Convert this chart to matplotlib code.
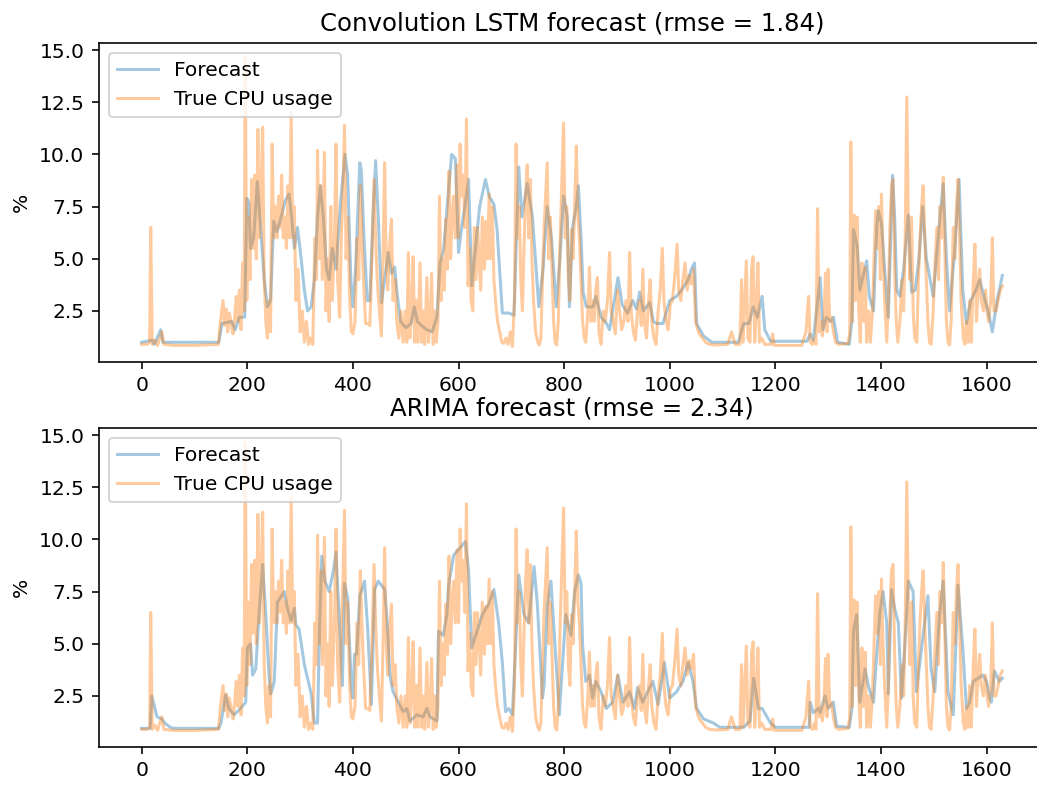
import matplotlib
matplotlib.use("Agg")
import matplotlib.pyplot as plt

# (time step, value) pairs
true_pts = [
    (0, 0.9), (10, 0.9), (15, 1.0), (17, 6.5), (20, 0.9), (25, 1.1), (30, 0.85), (38, 1.5), (42, 0.9),
    (60, 0.85), (100, 0.85), (145, 0.9), (150, 2.2), (154, 3.0), (157, 1.8), (160, 2.6), (163, 1.5),
    (166, 2.4), (170, 1.8), (173, 1.4), (176, 2.2), (179, 3.2), (182, 2.0), (185, 3.5), (188, 1.6),
    (191, 4.8), (194, 2.5), (196, 14.65), (199, 3.0), (202, 7.0), (205, 4.0), (208, 8.8), (211, 5.5),
    (214, 9.0), (217, 5.0), (220, 11.2), (223, 6.0), (226, 8.0), (229, 11.3), (232, 4.0), (235, 2.0),
    (238, 1.2), (241, 3.0), (244, 1.5), (247, 10.5), (250, 6.0), (253, 7.5), (256, 6.0), (259, 8.0),
    (262, 6.5), (265, 9.0), (268, 6.0), (271, 7.0), (274, 5.5), (277, 8.5), (280, 6.0), (283, 12.0),
    (286, 6.0), (289, 7.5), (292, 3.0), (296, 4.5), (300, 1.5), (304, 2.5), (308, 1.0), (312, 2.0),
    (316, 0.9), (320, 1.2), (324, 0.9), (328, 6.0), (331, 4.0), (333, 10.2), (336, 5.0), (339, 8.5),
    (342, 4.0), (346, 10.1), (349, 2.5), (352, 5.0), (355, 2.0), (358, 7.5), (361, 3.0), (365, 6.0),
    (368, 10.5), (371, 4.0), (375, 2.2), (378, 6.0), (381, 8.0), (384, 11.4), (387, 5.0), (390, 7.0),
    (394, 3.0), (397, 1.5), (400, 1.4), (404, 2.0), (408, 6.0), (411, 4.0), (414, 8.5), (417, 6.0),
    (420, 4.0), (424, 1.9), (428, 1.9), (432, 1.8), (436, 5.0), (440, 8.8), (443, 6.0), (446, 4.0),
    (450, 2.5), (454, 1.3), (457, 5.0), (460, 9.6), (463, 5.0), (466, 3.5), (469, 5.5), (473, 6.9),
    (476, 3.0), (480, 4.0), (483, 2.0), (487, 1.2), (491, 2.5), (495, 1.0), (499, 2.5), (502, 1.0),
    (505, 5.3), (508, 1.2), (511, 2.5), (514, 5.1), (517, 1.0), (520, 3.0), (523, 1.0), (527, 4.8),
    (530, 1.0), (533, 2.5), (536, 0.9), (540, 4.1), (543, 1.0), (546, 2.0), (549, 4.3), (552, 0.9),
    (555, 2.5), (558, 1.0), (561, 2.0), (564, 8.0), (567, 3.0), (570, 5.0), (573, 3.5), (576, 6.9),
    (579, 4.5), (582, 9.2), (585, 5.0), (588, 7.0), (591, 8.0), (594, 6.0), (597, 9.5), (600, 6.0),
    (603, 10.5), (606, 8.0), (609, 9.0), (612, 6.5), (615, 11.7), (618, 3.7), (621, 5.5), (624, 3.0),
    (627, 2.5), (630, 6.5), (633, 4.0), (636, 6.5), (639, 5.0), (642, 3.5), (645, 7.0), (649, 4.5),
    (652, 6.8), (655, 5.0), (658, 8.1), (661, 5.0), (664, 7.5), (667, 4.0), (670, 3.0), (674, 2.0),
    (678, 1.5), (682, 1.0), (686, 0.95), (690, 1.2), (694, 0.9), (698, 1.5), (702, 0.8), (706, 3.0),
    (709, 10.5), (712, 6.0), (715, 7.5), (718, 4.0), (721, 2.5), (724, 5.5), (727, 8.0), (730, 9.5),
    (733, 6.0), (736, 8.8), (739, 5.0), (742, 3.0), (746, 1.5), (750, 1.0), (753, 0.87), (756, 1.2),
    (759, 4.0), (762, 6.5), (765, 8.0), (768, 9.6), (771, 5.0), (774, 7.0), (777, 4.5), (780, 2.0),
    (783, 1.0), (786, 0.87), (789, 2.0), (792, 5.5), (795, 8.0), (799, 11.5), (802, 6.0), (805, 7.5),
    (808, 4.0), (811, 3.0), (814, 6.4), (817, 5.0), (820, 7.5), (823, 10.4), (826, 7.0), (829, 6.0),
    (832, 4.0), (835, 2.0), (838, 1.2), (841, 1.0), (845, 2.5), (848, 4.6), (851, 2.0), (854, 3.0),
    (857, 2.0), (860, 3.5), (863, 4.1), (866, 1.5), (870, 0.9), (874, 2.5), (878, 2.0), (882, 3.0),
    (886, 5.3), (889, 2.5), (893, 2.0), (897, 1.4), (901, 3.5), (905, 2.5), (909, 1.6), (913, 2.0),
    (917, 3.0), (921, 2.0), (924, 5.3), (927, 2.5), (931, 1.5), (935, 1.1), (939, 2.5), (943, 3.0),
    (946, 1.8), (949, 4.5), (952, 2.0), (956, 1.2), (960, 3.0), (963, 4.0), (966, 2.0), (970, 1.2),
    (974, 0.9), (978, 2.5), (982, 3.5), (986, 5.5), (989, 3.0), (993, 2.0), (997, 1.6), (1001, 2.8),
    (1005, 3.0), (1009, 4.0), (1014, 5.7), (1017, 3.5), (1021, 3.0), (1025, 4.0), (1029, 4.8),
    (1033, 3.5), (1037, 4.2), (1041, 3.8), (1045, 4.5), (1049, 2.0), (1052, 1.7), (1056, 1.4),
    (1062, 1.2), (1068, 1.0), (1075, 0.9), (1090, 0.87), (1110, 0.9), (1117, 1.5), (1124, 0.9),
    (1133, 0.9), (1136, 4.0), (1139, 1.0), (1142, 3.0), (1145, 4.9), (1148, 1.2), (1152, 1.0),
    (1155, 4.5), (1158, 5.1), (1161, 1.0), (1164, 2.5), (1167, 4.8), (1170, 1.0), (1174, 1.2),
    (1180, 0.9), (1192, 0.9), (1195, 1.4), (1198, 0.85), (1250, 0.85), (1258, 1.5), (1263, 3.2),
    (1266, 1.0), (1270, 0.9), (1274, 1.2), (1277, 0.9), (1280, 7.4), (1283, 1.5), (1286, 2.0),
    (1289, 1.3), (1292, 2.0), (1295, 4.3), (1298, 1.5), (1300, 4.5), (1303, 2.0), (1306, 2.2),
    (1310, 1.5), (1314, 1.0), (1320, 0.9), (1338, 0.95), (1341, 1.5), (1343, 10.6), (1346, 2.0),
    (1349, 7.1), (1352, 3.0), (1355, 7.0), (1358, 2.5), (1361, 1.0), (1364, 4.8), (1367, 2.0),
    (1370, 4.6), (1373, 1.0), (1377, 2.5), (1380, 1.0), (1384, 2.5), (1387, 5.0), (1390, 7.3),
    (1393, 5.5), (1396, 7.5), (1399, 4.0), (1401, 8.1), (1404, 5.0), (1407, 3.0), (1411, 1.0),
    (1414, 3.0), (1417, 6.5), (1420, 8.5), (1423, 8.8), (1426, 4.5), (1429, 2.0), (1432, 1.0),
    (1436, 2.0), (1440, 4.0), (1443, 2.5), (1446, 6.0), (1449, 12.75), (1452, 6.5), (1455, 4.0),
    (1458, 7.0), (1461, 2.5), (1464, 1.2), (1468, 1.0), (1471, 4.0), (1474, 6.0), (1477, 7.5),
    (1480, 8.5), (1483, 6.0), (1486, 4.0), (1489, 2.0), (1492, 1.0), (1495, 0.9), (1499, 2.5),
    (1502, 4.5), (1506, 6.5), (1509, 4.0), (1512, 7.5), (1515, 6.0), (1518, 8.9), (1521, 5.5),
    (1524, 2.0), (1527, 1.0), (1530, 0.87), (1533, 2.0), (1537, 6.5), (1540, 5.0), (1543, 7.5),
    (1546, 8.8), (1549, 6.0), (1552, 3.0), (1556, 1.2), (1559, 0.9), (1562, 2.0), (1565, 1.0),
    (1568, 3.0), (1571, 1.0), (1575, 4.0), (1578, 5.7), (1581, 2.0), (1584, 3.5), (1587, 4.5),
    (1590, 3.0), (1594, 2.5), (1598, 3.5), (1601, 2.5), (1604, 2.0), (1608, 3.0), (1611, 6.0),
    (1614, 2.5), (1618, 2.5), (1622, 3.0), (1626, 3.5), (1630, 3.7),
]

lstm_pts = [
    (0, 1.0), (20, 1.1), (24, 0.9), (36, 1.6), (40, 1.0), (146, 1.0), (152, 1.9), (170, 2.0),
    (177, 1.6), (185, 2.2), (195, 2.2), (199, 7.9), (203, 7.7), (206, 5.5), (212, 6.0), (219, 8.7),
    (225, 6.5), (232, 4.0), (238, 2.7), (244, 3.0), (250, 6.8), (256, 6.3), (264, 7.0), (272, 7.8),
    (279, 8.1), (284, 7.0), (289, 5.5), (295, 6.5), (302, 5.0), (308, 3.5), (314, 2.5), (321, 2.7),
    (327, 4.0), (333, 7.0), (338, 8.5), (344, 7.0), (350, 4.5), (355, 4.0), (361, 5.5), (368, 4.5),
    (376, 7.5), (385, 10.0), (390, 9.0), (396, 4.0), (400, 2.7), (405, 4.5), (413, 9.6), (416, 9.2),
    (421, 6.0), (427, 3.0), (432, 3.0), (438, 7.0), (443, 9.7), (448, 7.0), (454, 2.9), (460, 4.0),
    (467, 5.3), (473, 4.3), (479, 4.6), (483, 3.5), (490, 2.0), (500, 1.7), (510, 1.9), (516, 2.7),
    (522, 2.0), (530, 1.8), (540, 1.6), (550, 1.5), (559, 2.2), (565, 4.8), (572, 5.5), (580, 8.0),
    (587, 10.0), (594, 9.8), (600, 5.3), (606, 6.5), (612, 7.5), (619, 8.8), (625, 3.7), (632, 5.5),
    (640, 7.5), (651, 8.8), (658, 8.0), (667, 7.6), (673, 6.4), (683, 2.4), (695, 2.4), (705, 2.3),
    (714, 9.4), (720, 7.0), (730, 8.6), (740, 7.0), (752, 2.7), (760, 4.5), (768, 7.5), (776, 6.0),
    (785, 2.7), (792, 5.0), (799, 8.0), (806, 7.0), (810, 2.7), (816, 6.5), (823, 7.5), (827, 8.5),
    (832, 6.0), (836, 3.4), (842, 2.7), (855, 2.7), (860, 3.2), (870, 2.2), (880, 1.9), (886, 1.6),
    (895, 3.0), (902, 4.1), (910, 2.8), (920, 2.4), (930, 3.0), (937, 2.6), (943, 3.4), (950, 2.5),
    (962, 2.9), (969, 2.0), (975, 1.9), (987, 1.9), (1000, 3.0), (1013, 3.2), (1025, 3.6),
    (1035, 4.0), (1041, 4.5), (1047, 4.8), (1051, 1.9), (1064, 1.3), (1080, 1.0), (1130, 1.0),
    (1140, 1.9), (1150, 1.9), (1158, 2.7), (1166, 2.2), (1175, 3.2), (1180, 1.6), (1191, 1.05),
    (1260, 1.05), (1266, 1.4), (1272, 1.1), (1285, 4.1), (1290, 1.6), (1297, 2.2), (1305, 2.0),
    (1310, 2.2), (1318, 1.0), (1340, 0.9), (1345, 2.0), (1348, 6.4), (1355, 5.6), (1360, 3.5),
    (1373, 4.9), (1378, 3.2), (1386, 2.5), (1392, 6.5), (1395, 7.3), (1401, 6.7), (1407, 4.5),
    (1414, 2.2), (1422, 9.0), (1426, 7.0), (1430, 3.5), (1436, 3.2), (1443, 4.5), (1452, 7.1),
    (1458, 3.4), (1465, 3.5), (1472, 5.0), (1479, 7.5), (1486, 5.0), (1499, 3.2), (1510, 6.5),
    (1518, 8.6), (1524, 5.0), (1530, 2.5), (1540, 5.5), (1548, 8.8), (1555, 3.5), (1562, 1.9),
    (1570, 3.0), (1580, 3.5), (1587, 4.0), (1595, 3.2), (1603, 2.5), (1611, 1.5), (1620, 3.0),
    (1630, 4.2),
]

arima_pts = [
    (0, 0.95), (16, 0.95), (19, 2.5), (24, 2.0), (29, 1.5), (38, 1.4), (44, 1.2), (54, 1.0),
    (60, 0.95), (146, 0.95), (150, 1.2), (159, 2.55), (165, 1.9), (175, 1.6), (187, 1.9), (197, 2.2),
    (200, 4.8), (206, 5.0), (210, 3.5), (216, 3.8), (222, 6.4), (229, 8.8), (235, 6.4), (241, 3.5),
    (244, 2.6), (248, 2.9), (251, 3.2), (257, 7.0), (270, 7.5), (276, 6.7), (283, 6.1), (289, 6.7),
    (292, 5.9), (298, 5.7), (308, 4.0), (321, 2.6), (327, 1.2), (333, 1.2), (337, 6.0), (341, 9.2),
    (347, 8.0), (355, 7.5), (363, 8.5), (368, 9.4), (375, 5.7), (380, 3.0), (384, 7.9), (390, 7.2),
    (397, 2.9), (400, 2.4), (403, 4.5), (407, 4.5), (413, 7.3), (422, 8.0), (428, 5.7), (435, 2.1),
    (441, 7.6), (448, 8.0), (460, 7.6), (464, 6.4), (470, 3.5), (476, 2.7), (486, 2.2), (495, 1.75),
    (502, 1.9), (508, 1.3), (521, 1.6), (533, 1.5), (540, 1.9), (546, 1.5), (559, 1.3), (562, 5.6),
    (571, 5.4), (578, 6.4), (581, 7.8), (591, 9.25), (603, 9.6), (613, 9.9), (619, 8.5), (625, 4.8),
    (635, 5.6), (645, 6.4), (657, 6.9), (667, 7.6), (676, 6.0), (683, 4.1), (689, 1.75), (695, 1.9),
    (702, 1.6), (708, 4.8), (714, 8.3), (724, 6.4), (733, 6.0), (743, 8.7), (749, 7.0), (759, 2.4),
    (762, 3.0), (768, 6.8), (775, 8.0), (784, 4.4), (791, 1.6), (794, 2.9), (803, 6.4), (813, 5.4),
    (820, 7.5), (827, 8.3), (832, 7.9), (835, 4.9), (841, 3.2), (848, 3.5), (854, 2.4), (860, 3.2),
    (870, 2.7), (880, 1.9), (892, 2.2), (902, 3.5), (911, 2.2), (924, 2.7), (933, 1.9), (939, 2.9),
    (949, 2.2), (962, 2.9), (968, 3.2), (978, 2.1), (990, 4.1), (1000, 2.4), (1013, 2.7),
    (1025, 3.2), (1035, 4.1), (1044, 3.2), (1051, 1.9), (1064, 1.4), (1083, 1.2), (1095, 1.0),
    (1140, 1.0), (1152, 1.3), (1159, 3.35), (1168, 1.9), (1175, 1.9), (1191, 1.2), (1200, 1.0),
    (1264, 1.0), (1266, 2.2), (1272, 1.7), (1281, 1.9), (1285, 1.7), (1294, 2.5), (1300, 1.9),
    (1310, 2.2), (1316, 1.05), (1340, 1.0), (1345, 1.9), (1348, 5.6), (1354, 6.4), (1360, 2.2),
    (1370, 3.8), (1376, 3.0), (1386, 2.2), (1392, 4.5), (1398, 6.5), (1404, 7.5), (1411, 6.0),
    (1414, 2.6), (1420, 7.6), (1426, 6.7), (1433, 6.0), (1439, 2.4), (1445, 4.8), (1452, 8.0),
    (1461, 7.5), (1467, 2.7), (1477, 4.8), (1489, 7.3), (1495, 3.8), (1502, 2.7), (1511, 6.4),
    (1518, 8.0), (1527, 2.7), (1537, 1.6), (1546, 7.8), (1555, 4.8), (1562, 1.9), (1568, 2.2),
    (1575, 3.2), (1584, 3.35), (1593, 3.5), (1600, 3.2), (1606, 2.4), (1609, 2.2), (1615, 3.7),
    (1624, 3.2), (1630, 3.35),
]

y_ticks = [2.5, 5.0, 7.5, 10.0, 12.5, 15.0]

panels = [
    ("Convolution LSTM forecast (rmse = 1.84)", lstm_pts),
    ("ARIMA forecast (rmse = 2.34)", arima_pts),
]

# the reference looks like a ~146 dpi render, so default font/line sizes scale up
W, H, DPI = 1037, 785, 146
fig = plt.figure(figsize=(W / DPI, H / DPI), dpi=DPI)

# axes boxes in pixels (left, top) -- right edge runs past the image like the screenshot
boxes = [(98.7, 42.7), (98.7, 427.7)]
ax_w, ax_h = 946.7, 319.0

tx, ty = zip(*true_pts)
for (title, pts), (left, top) in zip(panels, boxes):
    ax = fig.add_axes([left / W, 1 - (top + ax_h) / H, ax_w / W, ax_h / H])
    fx, fy = zip(*pts)
    ax.plot(fx, fy, alpha=0.4, label="Forecast")
    ax.plot(tx, ty, alpha=0.4, label="True CPU usage")
    ax.set_xlim(-81.5, 1711.5)
    ax.set_ylim(0.07, 15.35)
    ax.set_yticks(y_ticks)
    ax.set_title(title)
    ax.set_ylabel("%")
    ax.legend(loc="upper left")

fig.savefig("out.png", dpi=DPI)
